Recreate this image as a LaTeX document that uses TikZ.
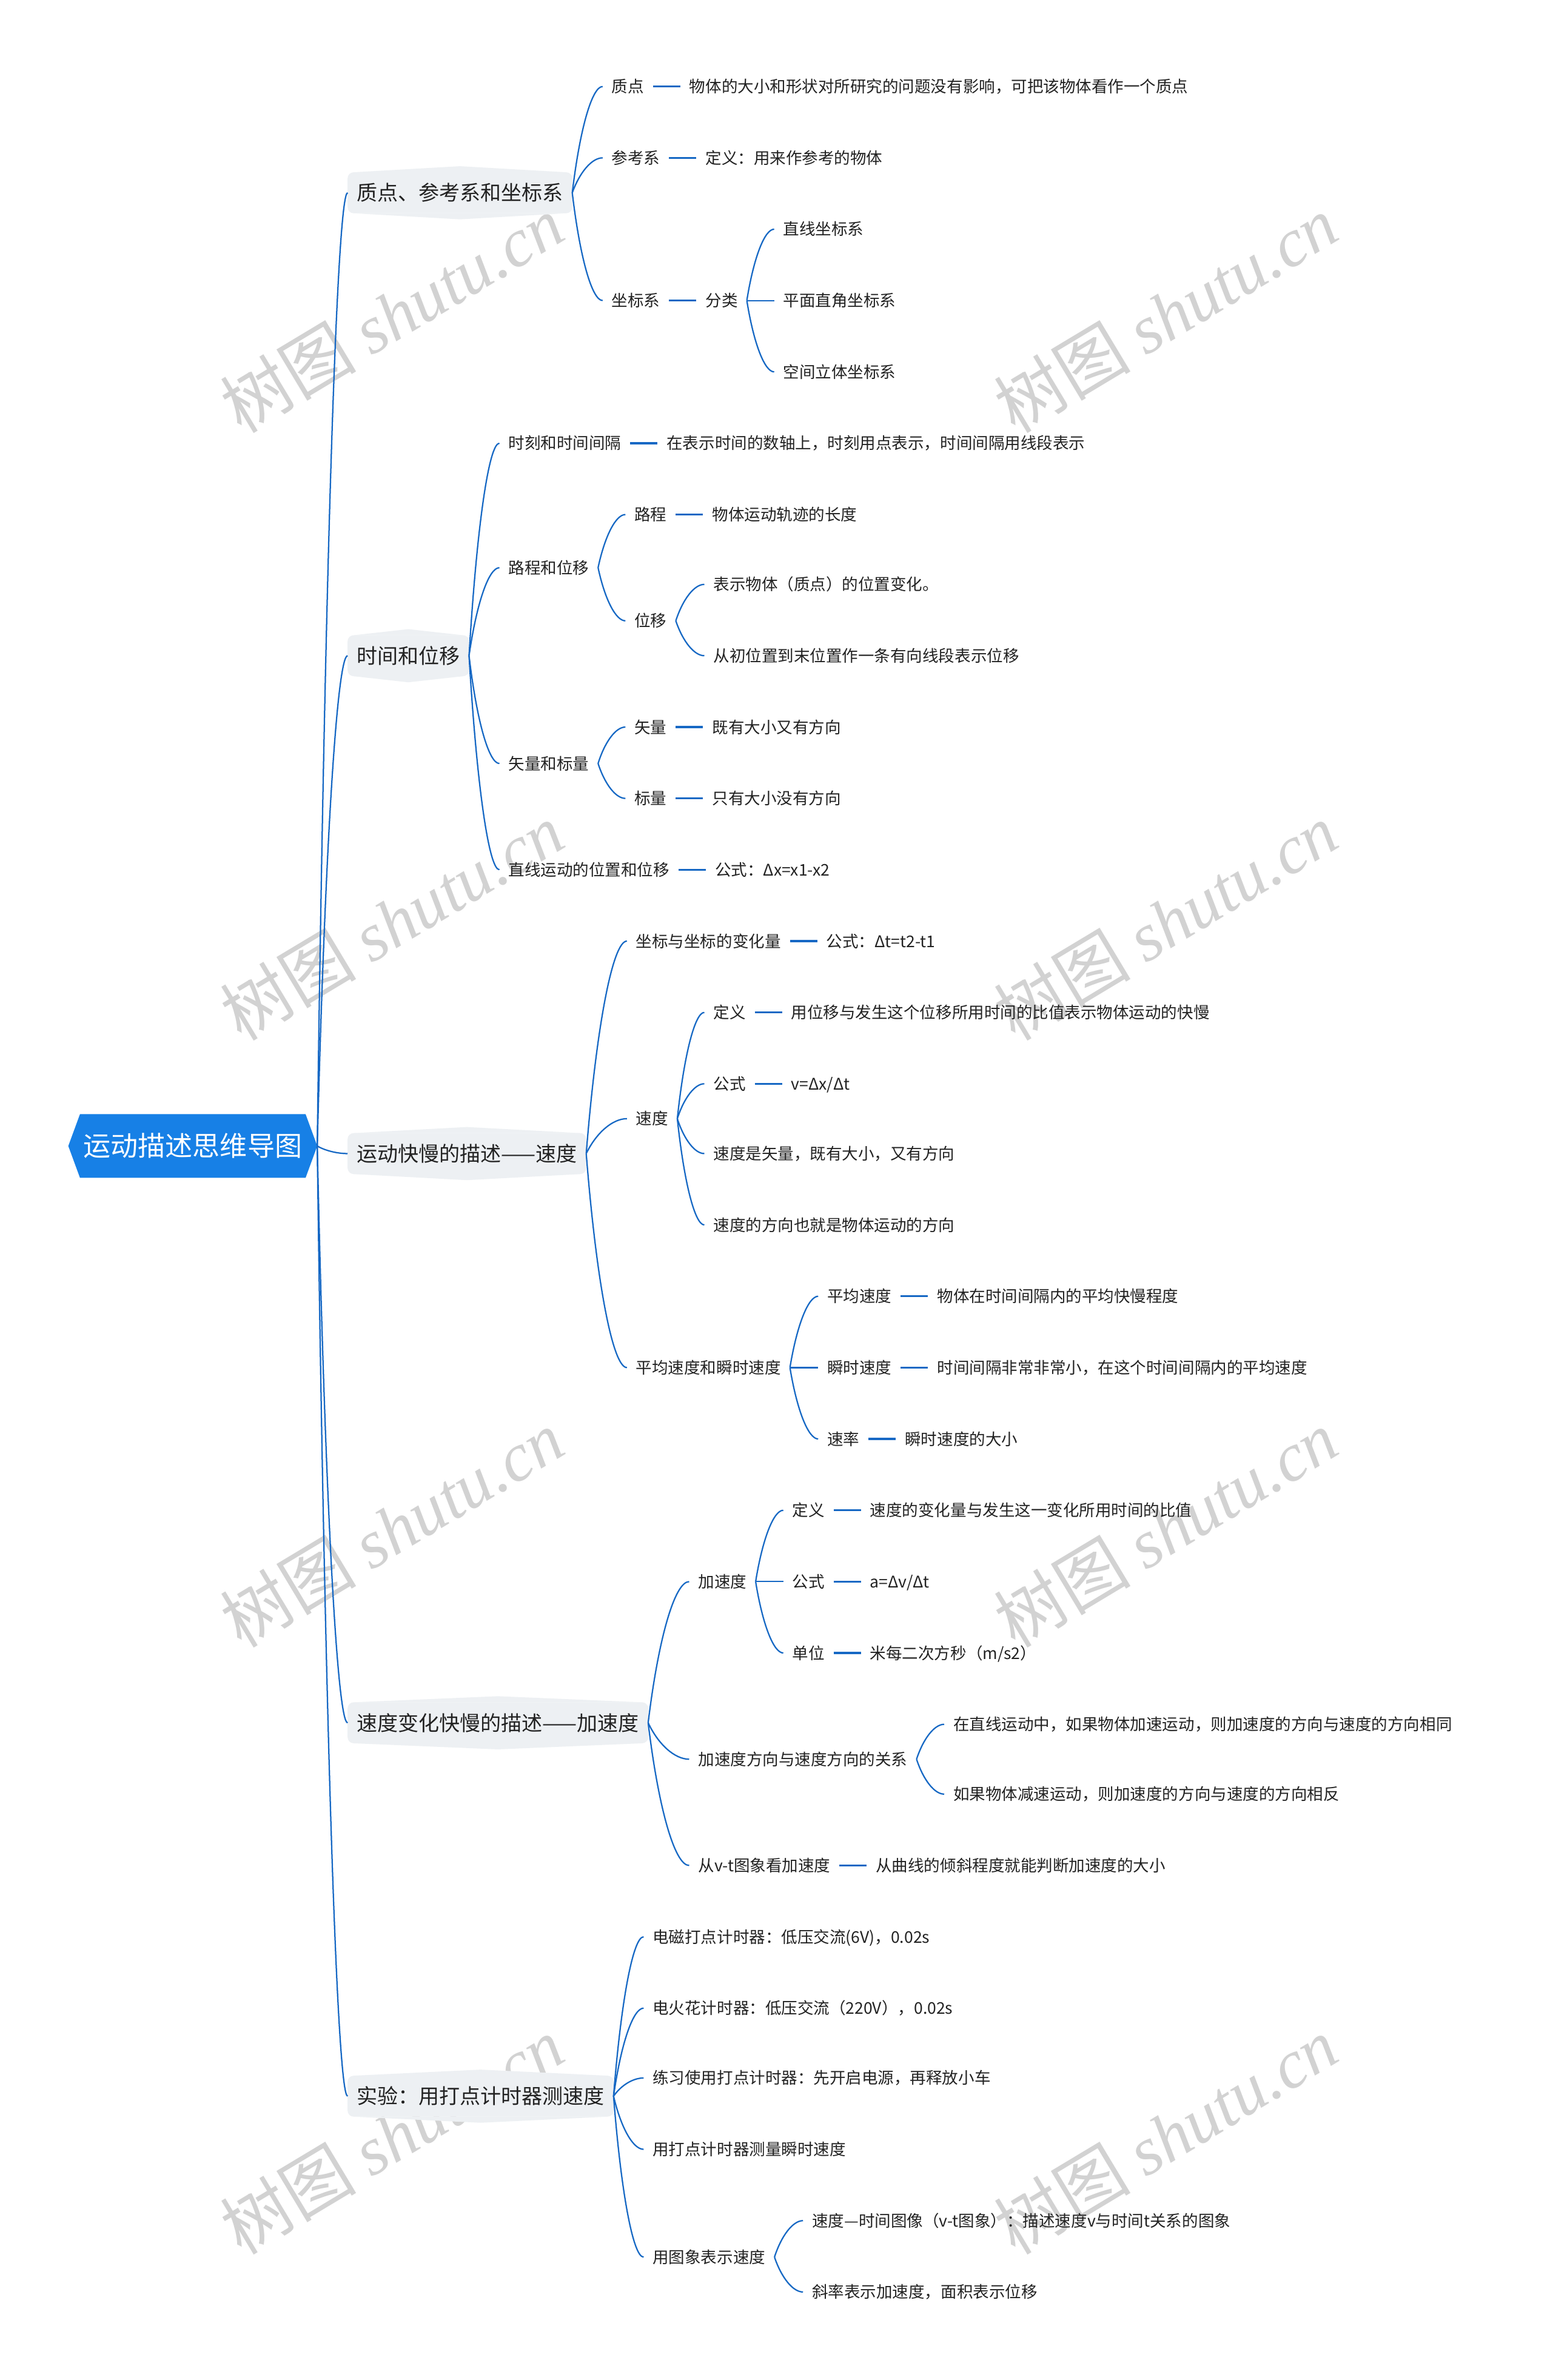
\documentclass[tikz,border=0pt]{standalone}
\usepackage{fontspec}
\setmainfont{Noto Sans CJK SC}
\newfontfamily\wmcjk{Noto Sans CJK SC}
\newfontfamily\wmlat{Liberation Serif}
\usetikzlibrary{calc,positioning}
\definecolor{rootblue}{RGB}{23,128,230}
\definecolor{lnblue}{RGB}{22,104,196}
\definecolor{lonefill}{RGB}{237,240,243}
\definecolor{txt}{RGB}{34,34,34}
\definecolor{wmgray}{RGB}{210,210,210}
\tikzset{
  lf/.style={anchor=west, inner xsep=0pt, inner ysep=0pt, outer xsep=6pt, outer ysep=0pt,
    font=\fontsize{10.6}{13}\selectfont, text=txt, text height=9.3pt, text depth=1.3pt},
  lone/.style={anchor=west, fill=lonefill, rounded corners=4pt, inner xsep=6pt, inner ysep=0pt,
    minimum height=27pt, outer sep=0pt, font=\fontsize{13.6}{16}\selectfont, text=txt,
    text height=12pt, text depth=1.6pt},
  rootnode/.style={inner sep=0pt, minimum width=164pt, minimum height=42pt, outer sep=0pt,
    font=\fontsize{18}{20}\selectfont, text=white, text height=15.8pt, text depth=2.2pt},
  conn/.style={draw=lnblue, line width=0.9pt},
  sconn/.style={draw=lnblue, line width=1.3pt},
  wmark/.style={text=wmgray, rotate=31, font=\fontsize{45}{48}\selectfont, inner sep=0pt},
  nx/.style={right=18pt of #1},
}
\newcommand\cn[2]{\draw[conn] let \p1=(#1.east), \p2=(#2.west) in (\p1) .. controls ({\x1+0.25*(\x2-\x1)},{\y1+0.6*(\y2-\y1)}) and ({\x2-0.35*(\x2-\x1)},\y2) .. (\p2);}
\newcommand\sn[2]{\draw[sconn] (#1.east) -- (#2.west);}
\newcommand\pks[1]{%
  \fill[lonefill] ($(#1.north west)+(4,0)$) -- ($(#1.north)+(0,-4)$) -- ($(#1.north east)+(-4,0)$) -- cycle;
  \fill[lonefill] ($(#1.south west)+(4,0)$) -- ($(#1.south)+(0,4)$) -- ($(#1.south east)+(-4,0)$) -- cycle;}
\begin{document}
\begin{tikzpicture}[x=1pt,y=-1pt]
\useasboundingbox (0,0) rectangle (1023,1568);
\fill[white] (0,0) rectangle (1023,1568);

% watermarks
\foreach \wx/\wy [count=\i] in {258/207,768/207,258/607,768/607,258/1007,768/1007,258/1407,768/1407}{
  \node[wmark] (wm\i) at (\wx,\wy) {{\wmcjk 树图} {\wmlat\itshape shutu.cn}};
}

% root
\fill[rootblue] (45,755) -- (52.7,734) -- (201.3,734) -- (209,755) -- (201.3,776) -- (52.7,776) -- cycle;
\node[rootnode] (root) at (127,755) {运动描述思维导图};

% level 1
\node[lone] (b1) at (229,127) {质点、参考系和坐标系}; \pks{b1}
\node[lone] (b2) at (229,432) {时间和位移}; \pks{b2}
\node[lone] (b3) at (229,760) {运动快慢的描述——速度}; \pks{b3}
\node[lone] (b4) at (229,1135) {速度变化快慢的描述——加速度}; \pks{b4}
\node[lone] (b5) at (229,1381) {实验：用打点计时器测速度}; \pks{b5}
\foreach \b in {b1,b2,b3,b4,b5}{\cn{root}{\b}}

% branch 1
\node[lf] (b1a) at (397,57) {质点};
\node[lf,nx=b1a] (b1a1) {物体的大小和形状对所研究的问题没有影响，可把该物体看作一个质点};
\node[lf] (b1b) at (397,104) {参考系};
\node[lf,nx=b1b] (b1b1) {定义：用来作参考的物体};
\node[lf] (b1c) at (397,198) {坐标系};
\node[lf,nx=b1c] (b1c1) {分类};
\node[lf] (b1c1a) at (510,151) {直线坐标系};
\node[lf] (b1c1b) at (510,198) {平面直角坐标系};
\node[lf] (b1c1c) at (510,245) {空间立体坐标系};
\cn{b1}{b1a}\cn{b1}{b1b}\cn{b1}{b1c}
\sn{b1a}{b1a1}\sn{b1b}{b1b1}\sn{b1c}{b1c1}
\cn{b1c1}{b1c1a}\cn{b1c1}{b1c1b}\cn{b1c1}{b1c1c}

% branch 2
\node[lf] (b2a) at (329,292) {时刻和时间间隔};
\node[lf,nx=b2a] (b2a1) {在表示时间的数轴上，时刻用点表示，时间间隔用线段表示};
\node[lf] (b2b) at (329,374) {路程和位移};
\node[lf] (b2b1) at (412,339) {路程};
\node[lf,nx=b2b1] (b2b1a) {物体运动轨迹的长度};
\node[lf] (b2b2) at (412,409) {位移};
\node[lf] (b2b2a) at (464,385) {表示物体（质点）的位置变化。};
\node[lf] (b2b2b) at (464,432) {从初位置到末位置作一条有向线段表示位移};
\node[lf] (b2c) at (329,503) {矢量和标量};
\node[lf] (b2c1) at (412,479) {矢量};
\node[lf,nx=b2c1] (b2c1a) {既有大小又有方向};
\node[lf] (b2c2) at (412,526) {标量};
\node[lf,nx=b2c2] (b2c2a) {只有大小没有方向};
\node[lf] (b2d) at (329,573) {直线运动的位置和位移};
\node[lf,nx=b2d] (b2d1) {公式：Δx=x1-x2};
\cn{b2}{b2a}\cn{b2}{b2b}\cn{b2}{b2c}\cn{b2}{b2d}
\sn{b2a}{b2a1}
\cn{b2b}{b2b1}\cn{b2b}{b2b2}\sn{b2b1}{b2b1a}
\cn{b2b2}{b2b2a}\cn{b2b2}{b2b2b}
\cn{b2c}{b2c1}\cn{b2c}{b2c2}\sn{b2c1}{b2c1a}\sn{b2c2}{b2c2a}
\sn{b2d}{b2d1}

% branch 3
\node[lf] (b3a) at (413,620) {坐标与坐标的变化量};
\node[lf,nx=b3a] (b3a1) {公式：Δt=t2-t1};
\node[lf] (b3b) at (413,737) {速度};
\node[lf] (b3b1) at (464,667) {定义};
\node[lf,nx=b3b1] (b3b1a) {用位移与发生这个位移所用时间的比值表示物体运动的快慢};
\node[lf] (b3b2) at (464,714) {公式};
\node[lf,nx=b3b2] (b3b2a) {v=Δx/Δt};
\node[lf] (b3b3) at (464,760) {速度是矢量，既有大小，又有方向};
\node[lf] (b3b4) at (464,807) {速度的方向也就是物体运动的方向};
\node[lf] (b3c) at (413,901) {平均速度和瞬时速度};
\node[lf] (b3c1) at (539,854) {平均速度};
\node[lf,nx=b3c1] (b3c1a) {物体在时间间隔内的平均快慢程度};
\node[lf] (b3c2) at (539,901) {瞬时速度};
\node[lf,nx=b3c2] (b3c2a) {时间间隔非常非常小，在这个时间间隔内的平均速度};
\node[lf] (b3c3) at (539,948) {速率};
\node[lf,nx=b3c3] (b3c3a) {瞬时速度的大小};
\cn{b3}{b3a}\cn{b3}{b3b}\cn{b3}{b3c}
\sn{b3a}{b3a1}
\cn{b3b}{b3b1}\cn{b3b}{b3b2}\cn{b3b}{b3b3}\cn{b3b}{b3b4}
\sn{b3b1}{b3b1a}\sn{b3b2}{b3b2a}
\cn{b3c}{b3c1}\cn{b3c}{b3c2}\cn{b3c}{b3c3}
\sn{b3c1}{b3c1a}\sn{b3c2}{b3c2a}\sn{b3c3}{b3c3a}

% branch 4
\node[lf] (b4a) at (454,1042) {加速度};
\node[lf] (b4a1) at (516,995) {定义};
\node[lf,nx=b4a1] (b4a1a) {速度的变化量与发生这一变化所用时间的比值};
\node[lf] (b4a2) at (516,1042) {公式};
\node[lf,nx=b4a2] (b4a2a) {a=Δv/Δt};
\node[lf] (b4a3) at (516,1089) {单位};
\node[lf,nx=b4a3] (b4a3a) {米每二次方秒（m/s2）};
\node[lf] (b4b) at (454,1159) {加速度方向与速度方向的关系};
\node[lf] (b4b1) at (622,1136) {在直线运动中，如果物体加速运动，则加速度的方向与速度的方向相同};
\node[lf] (b4b2) at (622,1182) {如果物体减速运动，则加速度的方向与速度的方向相反};
\node[lf] (b4c) at (454,1229) {从v-t图象看加速度};
\node[lf,nx=b4c] (b4c1) {从曲线的倾斜程度就能判断加速度的大小};
\cn{b4}{b4a}\cn{b4}{b4b}\cn{b4}{b4c}
\cn{b4a}{b4a1}\cn{b4a}{b4a2}\cn{b4a}{b4a3}
\sn{b4a1}{b4a1a}\sn{b4a2}{b4a2a}\sn{b4a3}{b4a3a}
\cn{b4b}{b4b1}\cn{b4b}{b4b2}
\sn{b4c}{b4c1}

% branch 5
\node[lf] (b5a) at (424,1276) {电磁打点计时器：低压交流(6V)，0.02s};
\node[lf] (b5b) at (424,1323) {电火花计时器：低压交流（220V），0.02s};
\node[lf] (b5c) at (424,1369) {练习使用打点计时器：先开启电源，再释放小车};
\node[lf] (b5d) at (424,1416) {用打点计时器测量瞬时速度};
\node[lf] (b5e) at (424,1487) {用图象表示速度};
\node[lf] (b5e1) at (529,1463) {速度—时间图像（v-t图象）：描述速度v与时间t关系的图象};
\node[lf] (b5e2) at (529,1510) {斜率表示加速度，面积表示位移};
\cn{b5}{b5a}\cn{b5}{b5b}\cn{b5}{b5c}\cn{b5}{b5d}\cn{b5}{b5e}
\cn{b5e}{b5e1}\cn{b5e}{b5e2}
\end{tikzpicture}
\end{document}
